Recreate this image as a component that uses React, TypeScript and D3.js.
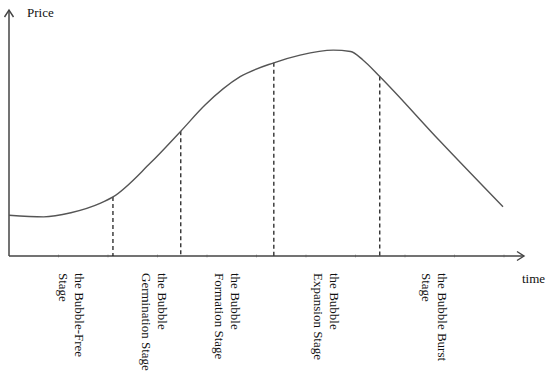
import { useEffect, useRef } from "react";
import * as d3 from "d3";

// curve (time units, price units)
const timeVals = [0, 0.7, 1.25, 1.85, 2.1, 2.85, 3.47, 3.96, 4.67, 5.35, 5.88, 6.55, 6.9, 7.15, 7.49, 8.7, 9.98];
const priceVals = [17, 16.3, 18, 22, 24.6, 38.6, 52, 62.9, 74.7, 80.5, 83.7, 85.8, 85.2, 81.7, 74.8, 48, 20.5];

// stage boundaries (dashed lines)
const boundaryTimes = [2.1, 3.47, 5.35, 7.49];
const boundaryPrices = [24.6, 52, 80.5, 74.8];

// stage labels (rotated)
const stageLabels = [
  ["the Bubble-Free", "Stage"],
  ["the Bubble", "Germination Stage"],
  ["the Bubble", "Formation Stage"],
  ["the Bubble", "Expansion Stage"],
  ["the Bubble Burst", "Stage"]
];
const labelTimes = [1.27, 2.95, 4.42, 6.42, 8.6];
const tickVals = [1, 2, 3, 4, 5, 6, 7, 8, 9, 10];

const App = () => {
  const svgRef = useRef<SVGSVGElement | null>(null);

  useEffect(() => {
    const svg = d3.select(svgRef.current);
    svg.selectAll("*").remove();

    const width = 550;
    const height = 386;
    svg.attr("width", width).attr("height", height);

    const x = d3.scaleLinear().domain([0, 10]).range([9, 504]);
    const y = d3.scaleLinear().domain([0, 100]).range([256, 16]);

    const axisColor = "#444";
    const x0 = x(0);
    const y0 = y(0);
    const xEnd = 524;
    const yTop = 10;

    // faint ticks
    svg.append("g")
      .selectAll("line")
      .data(tickVals)
      .enter()
      .append("line")
      .attr("x1", d => x(d))
      .attr("x2", d => x(d))
      .attr("y1", y0 - 1.5)
      .attr("y2", y0 + 1.5)
      .attr("stroke", "#bbb")
      .attr("stroke-width", 1);

    // axes
    svg.append("line")
      .attr("x1", x0).attr("y1", y0)
      .attr("x2", xEnd).attr("y2", y0)
      .attr("stroke", axisColor).attr("stroke-width", 1.5);
    svg.append("line")
      .attr("x1", x0).attr("y1", y0)
      .attr("x2", x0).attr("y2", yTop)
      .attr("stroke", axisColor).attr("stroke-width", 1.5);

    // arrow heads
    svg.append("path")
      .attr("d", `M${xEnd - 7},${y0 - 4.5} L${xEnd},${y0} L${xEnd - 7},${y0 + 4.5}`)
      .attr("fill", "none").attr("stroke", axisColor).attr("stroke-width", 1.4);
    svg.append("path")
      .attr("d", `M${x0 - 4.5},${yTop + 7} L${x0},${yTop} L${x0 + 4.5},${yTop + 7}`)
      .attr("fill", "none").attr("stroke", axisColor).attr("stroke-width", 1.4);

    // dashed stage lines
    svg.append("g")
      .selectAll("line")
      .data(boundaryTimes)
      .enter()
      .append("line")
      .attr("x1", d => x(d))
      .attr("x2", d => x(d))
      .attr("y1", (_, i) => y(boundaryPrices[i]))
      .attr("y2", y0)
      .attr("stroke", "#222")
      .attr("stroke-width", 1.3)
      .attr("stroke-dasharray", "4,3");

    // price curve
    const pts = timeVals.map((t, i) => [t, priceVals[i]] as [number, number]);
    const line = d3.line<[number, number]>()
      .x(d => x(d[0]))
      .y(d => y(d[1]))
      .curve(d3.curveMonotoneX);
    svg.append("path")
      .attr("d", line(pts) ?? "")
      .attr("fill", "none")
      .attr("stroke", "#555")
      .attr("stroke-width", 1.4);

    const font = "'Liberation Serif', 'Times New Roman', serif";

    // axis titles
    svg.append("text")
      .attr("x", 27).attr("y", 17)
      .attr("font-family", font).attr("font-size", 13)
      .attr("fill", "#111")
      .text("Price");
    svg.append("text")
      .attr("x", 522).attr("y", 283)
      .attr("font-family", font).attr("font-size", 13)
      .attr("fill", "#111")
      .text("time");

    // stage labels
    const labels = svg.append("g")
      .selectAll("text")
      .data(stageLabels)
      .enter()
      .append("text")
      .attr("transform", (_, i) => `translate(${x(labelTimes[i])},273) rotate(90)`)
      .attr("font-family", font)
      .attr("font-size", 13)
      .attr("fill", "#111");
    labels.selectAll("tspan")
      .data(d => d)
      .enter()
      .append("tspan")
      .attr("x", 0)
      .attr("y", (_, j) => (j === 0 ? -3 : 13))
      .text(d => d);
  }, []);

  return (
    <svg
      ref={svgRef}
      style={{ position: "absolute", left: 0, top: 0, background: "#fff" }}
    ></svg>
  );
};

export default App;
